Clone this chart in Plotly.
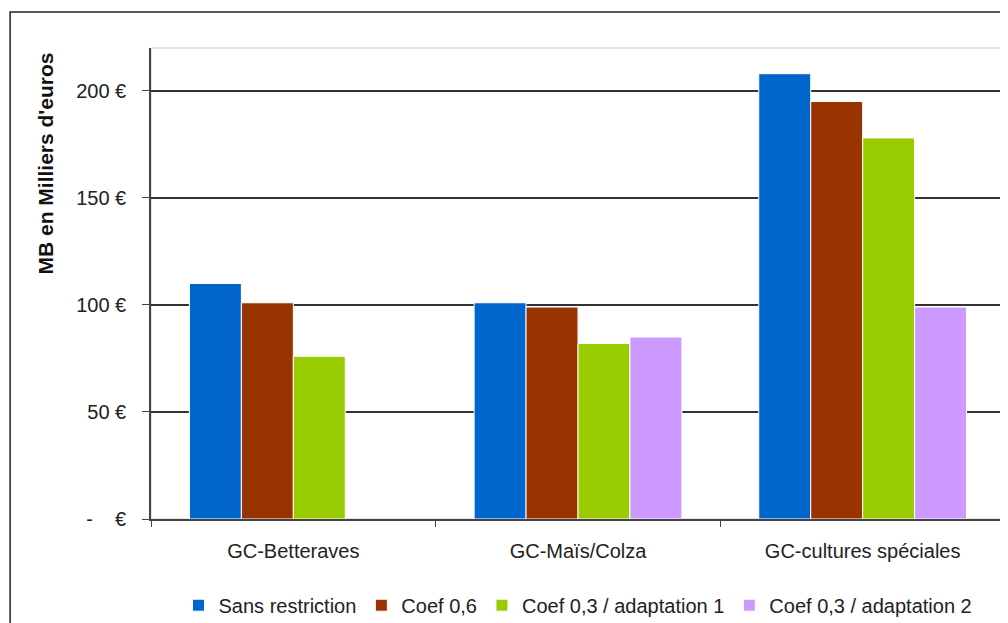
import plotly.graph_objects as go

categories = ["GC-Betteraves", "GC-Maïs/Colza", "GC-cultures spéciales"]
series_names = ["Sans restriction", "Coef 0,6", "Coef 0,3 / adaptation 1", "Coef 0,3 / adaptation 2"]
sans_restriction = [110, 101, 208]
coef_06 = [101, 99, 195]
coef_03_adapt1 = [76, 82, 178]
coef_03_adapt2 = [None, 85, 99]
colors = ["#0066CC", "#993300", "#99CC00", "#CC99FF"]
ytick_vals = [0, 50, 100, 150, 200]
ytick_text = ["-\u00a0\u00a0\u00a0\u00a0€", "50 €", "100 €", "150 €", "200 €"]
y_title = "MB en Milliers d'euros"

FONT = "Liberation Sans, Arial, sans-serif"

fig = go.Figure()
for name, vals, col in zip(series_names,
                           [sans_restriction, coef_06, coef_03_adapt1, coef_03_adapt2],
                           colors):
    fig.add_trace(go.Bar(x=categories, y=vals, name=name,
                         marker=dict(color=col, line=dict(color="white", width=1))))

fig.update_layout(
    width=1000, height=615,
    margin=dict(l=143, r=3, t=40, b=104, autoexpand=False),
    paper_bgcolor="white", plot_bgcolor="white",
    font=dict(family=FONT, size=20, color="#222222"),
    barmode="group", bargap=0.27, bargroupgap=0,
    showlegend=True,
    legend=dict(orientation="h", x=0.5, xanchor="center", y=-0.183, yanchor="middle",
                font=dict(size=20, color="#222222"), itemwidth=30, tracegroupgap=0),
    xaxis=dict(type="category", tickson="boundaries", ticks="outside", ticklen=6,
               tickcolor="#444444", showline=True, linecolor="#444444", linewidth=1.5,
               showgrid=False, tickfont=dict(size=20), ticklabelstandoff=13),
    yaxis=dict(range=[0, 220], tickvals=ytick_vals, ticktext=ytick_text,
               ticks="outside", ticklen=7, tickcolor="#444444",
               showline=True, linecolor="#444444", linewidth=1.5,
               showgrid=True, gridcolor="#333333", gridwidth=1.5,
               zeroline=False, tickfont=dict(size=20), ticklabelstandoff=12),
    shapes=[
        dict(type="rect", xref="paper", yref="paper", x0=0, x1=1, y0=0, y1=1,
             line=dict(color="#c8c8c8", width=1), layer="below"),
        dict(type="rect", xref="paper", yref="paper", x0=-0.165, x1=1.01, y0=-0.25, y1=1.0764,
             line=dict(color="#222222", width=1.5), layer="below"),
    ],
    annotations=[
        dict(text="<b>" + y_title + "</b>", xref="paper", yref="paper", x=-0.124, y=0.755,
             textangle=-90, showarrow=False, font=dict(size=21, color="#111111", family=FONT),
             xanchor="center", yanchor="middle")
    ],
)

fig.write_html("out.html")
